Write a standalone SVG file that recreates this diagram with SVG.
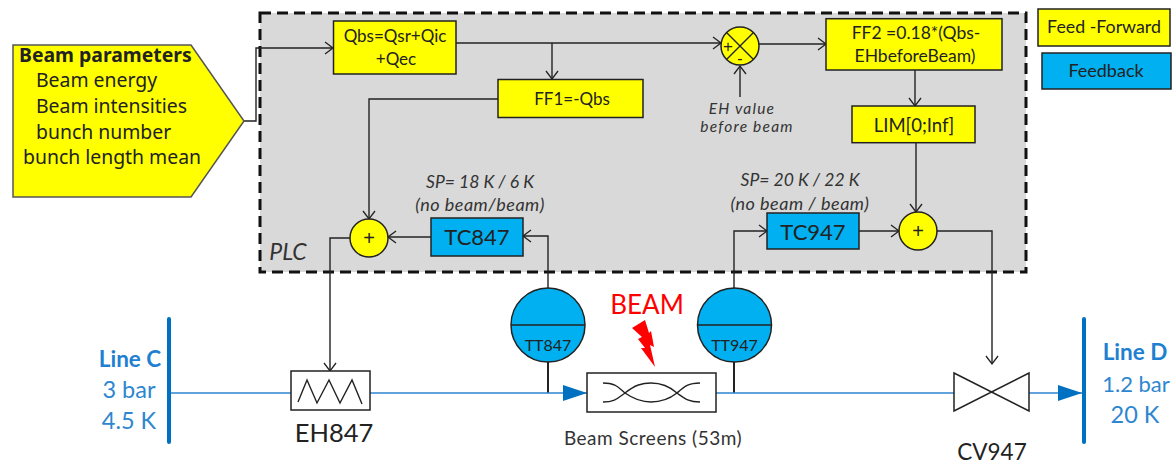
<svg xmlns="http://www.w3.org/2000/svg" width="1174" height="465" viewBox="0 0 1174 465">
<style>
text{font-family:"Lato","Open Sans","Liberation Sans",sans-serif;text-anchor:middle;fill:#222}
.y{fill:#ffff00;stroke:#222;stroke-width:1.5}
.b{fill:#00b0f0;stroke:#222;stroke-width:1.5}
.w{fill:#fff;stroke:#222;stroke-width:1.5}
.c{fill:none;stroke:#222;stroke-width:1.4;marker-end:url(#open)}
.n{fill:none;stroke:#222;stroke-width:1.4}
.p{fill:none;stroke:#2f85cf;stroke-width:1.6}
.bar{stroke:#0070c0;stroke-width:4;stroke-linecap:round}
.s{font-size:17px}
.i{font-size:17.500px;font-style:italic;fill:#333}
.ip{font-size:18px;font-style:italic;fill:#333;letter-spacing:.5px}
.eh{font-size:15.500px;font-style:italic;fill:#333;letter-spacing:1.200px}
.l{font-family:"Noto Sans","Open Sans",sans-serif;font-size:19.400px;text-anchor:start}
.lb{fill:#2e86d0;font-size:23.500px}
.lh{fill:#1f7fd0;font-size:22.500px;font-weight:700}
.sym{font-family:"Liberation Sans",sans-serif;font-size:20px}
</style>
<defs>
<marker id="open" markerWidth="14" markerHeight="14" refX="11" refY="6" orient="auto" markerUnits="userSpaceOnUse" overflow="visible"><path d="M3 0L11 6L3 12" fill="none" stroke="#222" stroke-width="1.300"/></marker>
<marker id="solid" markerWidth="26" markerHeight="18" refX="24" refY="8" orient="auto" markerUnits="userSpaceOnUse"><path d="M0 0L24 8L0 16Z" fill="#0070c0"/></marker>
</defs>

<g id="plc">
<rect x="260" y="13" width="766" height="259" fill="#d9d9d9" stroke="#111" stroke-width="3" stroke-dasharray="11 6"/>
<text x="288" y="260" font-size="23" font-style="italic" style="fill:#333">PLC</text>
</g>

<g id="connectors">
<path class="c" d="M244 121H256V48H333"/>
<path class="c" d="M456 43H721"/>
<path class="c" d="M552 43V79"/>
<path class="c" d="M498 99H369V219"/>
<path class="c" d="M431 237H388"/>
<path class="c" d="M548 288V236H523"/>
<path class="c" d="M759 44H826"/>
<path class="c" d="M740 97V66"/>
<path class="c" d="M915 70V106"/>
<path class="c" d="M916 143V212"/>
<path class="c" d="M734 288V231H767"/>
<path class="c" d="M859 231H899"/>
<path class="c" d="M937 231H992V364"/>
<path class="c" d="M350 238H330V371"/>
<path class="n" d="M548 362V393M734 362V393" style="stroke-width:2"/>
<path class="p" d="M171 393H291"/>
<path class="p" d="M370 393H587" style="marker-end:url(#solid)"/>
<path class="p" d="M716 393H954"/>
<path class="p" d="M1029 393H1082" style="marker-end:url(#solid)"/>
</g>

<g id="beam-parameters">
<polygon points="13,45 191,45 244,121 191,197 13,197" fill="#ffff00" stroke="#555" stroke-width="1.500"/>
<text class="l" x="19" y="62" font-weight="700">Beam parameters</text>
<text class="l" x="36" y="87">Beam energy</text>
<text class="l" x="36" y="113">Beam intensities</text>
<text class="l" x="36" y="139">bunch number</text>
<text class="l" x="23" y="164">bunch length mean</text>
</g>

<g id="qbs">
<rect class="y" x="333.500" y="21" width="122.500" height="53"/>
<text class="s" x="395" y="42">Qbs=Qsr+Qic</text>
<text class="s" x="396" y="65">+Qec</text>
</g>
<g id="ff1">
<rect class="y" x="498" y="79.500" width="145" height="38"/>
<text class="s" x="572" y="105">FF1=-Qbs</text>
</g>
<g id="sum-eh">
<circle class="y" cx="740" cy="46" r="19"/>
<path class="n" d="M726.500 32.500L753.500 59.500M753.500 32.500L726.500 59.500"/>
<text class="sym" x="728" y="52" style="font-size:17px">+</text>
<text class="sym" x="740" y="64" style="font-size:16px">-</text>
</g>
<g id="eh-value">
<text class="eh" x="742" y="114">EH value</text>
<text class="eh" x="747" y="132">before beam</text>
</g>
<g id="ff2">
<rect class="y" x="826" y="18.700" width="176" height="51.300"/>
<text class="i" x="916" y="39" style="font-style:normal;fill:#222">FF2 =0.18*(Qbs-</text>
<text class="i" x="915" y="62" style="font-style:normal;fill:#222">EHbeforeBeam)</text>
</g>
<g id="lim">
<rect class="y" x="852" y="106" width="123" height="36.700"/>
<text x="914" y="132" font-size="18.500">LIM[0;Inf]</text>
</g>
<g id="sum-right">
<circle class="y" cx="918" cy="231" r="19"/>
<text class="sym" x="918" y="238">+</text>
</g>
<g id="sum-left">
<circle class="y" cx="369" cy="238" r="19"/>
<text class="sym" x="369" y="245">+</text>
</g>
<g id="tc847">
<rect class="b" x="431" y="218" width="92" height="38"/>
<text x="477" y="245" font-size="22">TC847</text>
</g>
<g id="tc947">
<rect class="b" x="767" y="213" width="92" height="36"/>
<text x="813" y="240" font-size="22">TC947</text>
</g>
<g id="sp847">
<text class="i" x="480" y="188">SP= 18 K / 6 K</text>
<text class="ip" x="480" y="211">(no beam/beam)</text>
</g>
<g id="sp947">
<text class="i" x="800" y="186">SP= 20 K / 22 K</text>
<text class="ip" x="800" y="210">(no beam / beam)</text>
</g>
<g id="legend-ff">
<rect class="y" x="1038" y="9" width="132" height="37"/>
<text x="1104" y="33" font-size="17.800">Feed -Forward</text>
</g>
<g id="legend-fb">
<rect class="b" x="1042" y="53" width="129" height="36"/>
<text x="1106" y="77" font-size="18">Feedback</text>
</g>

<g id="line-c">
<line class="bar" x1="169" y1="319" x2="169" y2="442"/>
<text class="lh" x="130" y="367">Line C</text>
<text class="lb" x="129" y="398">3 bar</text>
<text class="lb" x="129" y="429">4.5 K</text>
</g>
<g id="line-d">
<line class="bar" x1="1084" y1="319" x2="1084" y2="442"/>
<text class="lh" x="1135" y="360">Line D</text>
<text class="lb" x="1136" y="392" style="font-size:22px">1.2 bar</text>
<text class="lb" x="1135" y="423">20 K</text>
</g>
<g id="eh847">
<rect class="w" x="291" y="371" width="79" height="39"/>
<path class="n" d="M298 402L307 380L317 403L329 380L340 403L352 380L362 404"/>
<text x="334" y="442" font-size="25.500">EH847</text>
</g>
<g id="tt847">
<circle class="b" cx="548" cy="325" r="37"/>
<line class="n" x1="511" y1="325" x2="585" y2="325"/>
<text x="548" y="351" font-size="16">TT847</text>
</g>
<g id="tt947">
<circle class="b" cx="734.500" cy="325" r="37"/>
<line class="n" x1="697.500" y1="325" x2="771.500" y2="325"/>
<text x="734.500" y="351" font-size="16">TT947</text>
</g>
<g id="beam">
<text x="647" y="314" font-size="26" style="fill:#ff0000">BEAM</text>
<polygon points="632,328 645,320 649,333 651,331 654,347 650,345 655,367 641,348 645,348 638,339 642,337" fill="#ff0000"/>
</g>
<g id="beam-screens">
<rect class="w" x="587" y="373" width="129" height="39"/>
<path class="n" d="M603 383C615 383 618 387 625 393C635 400 642 402 651 402C660 402 668 400 677 393C684 387 688 383 700 383M603 402C615 402 618 398 625 393C635 385 642 383 651 383C660 383 668 385 677 393C684 398 688 402 700 402"/>
<text x="653" y="445" font-size="19" letter-spacing=".5" style="fill:#333">Beam Screens (53m)</text>
</g>
<g id="cv947">
<polygon class="w" points="954,373 1029,411 1029,373 954,411"/>
<text x="992" y="460" font-size="22.500">CV947</text>
</g>
</svg>
